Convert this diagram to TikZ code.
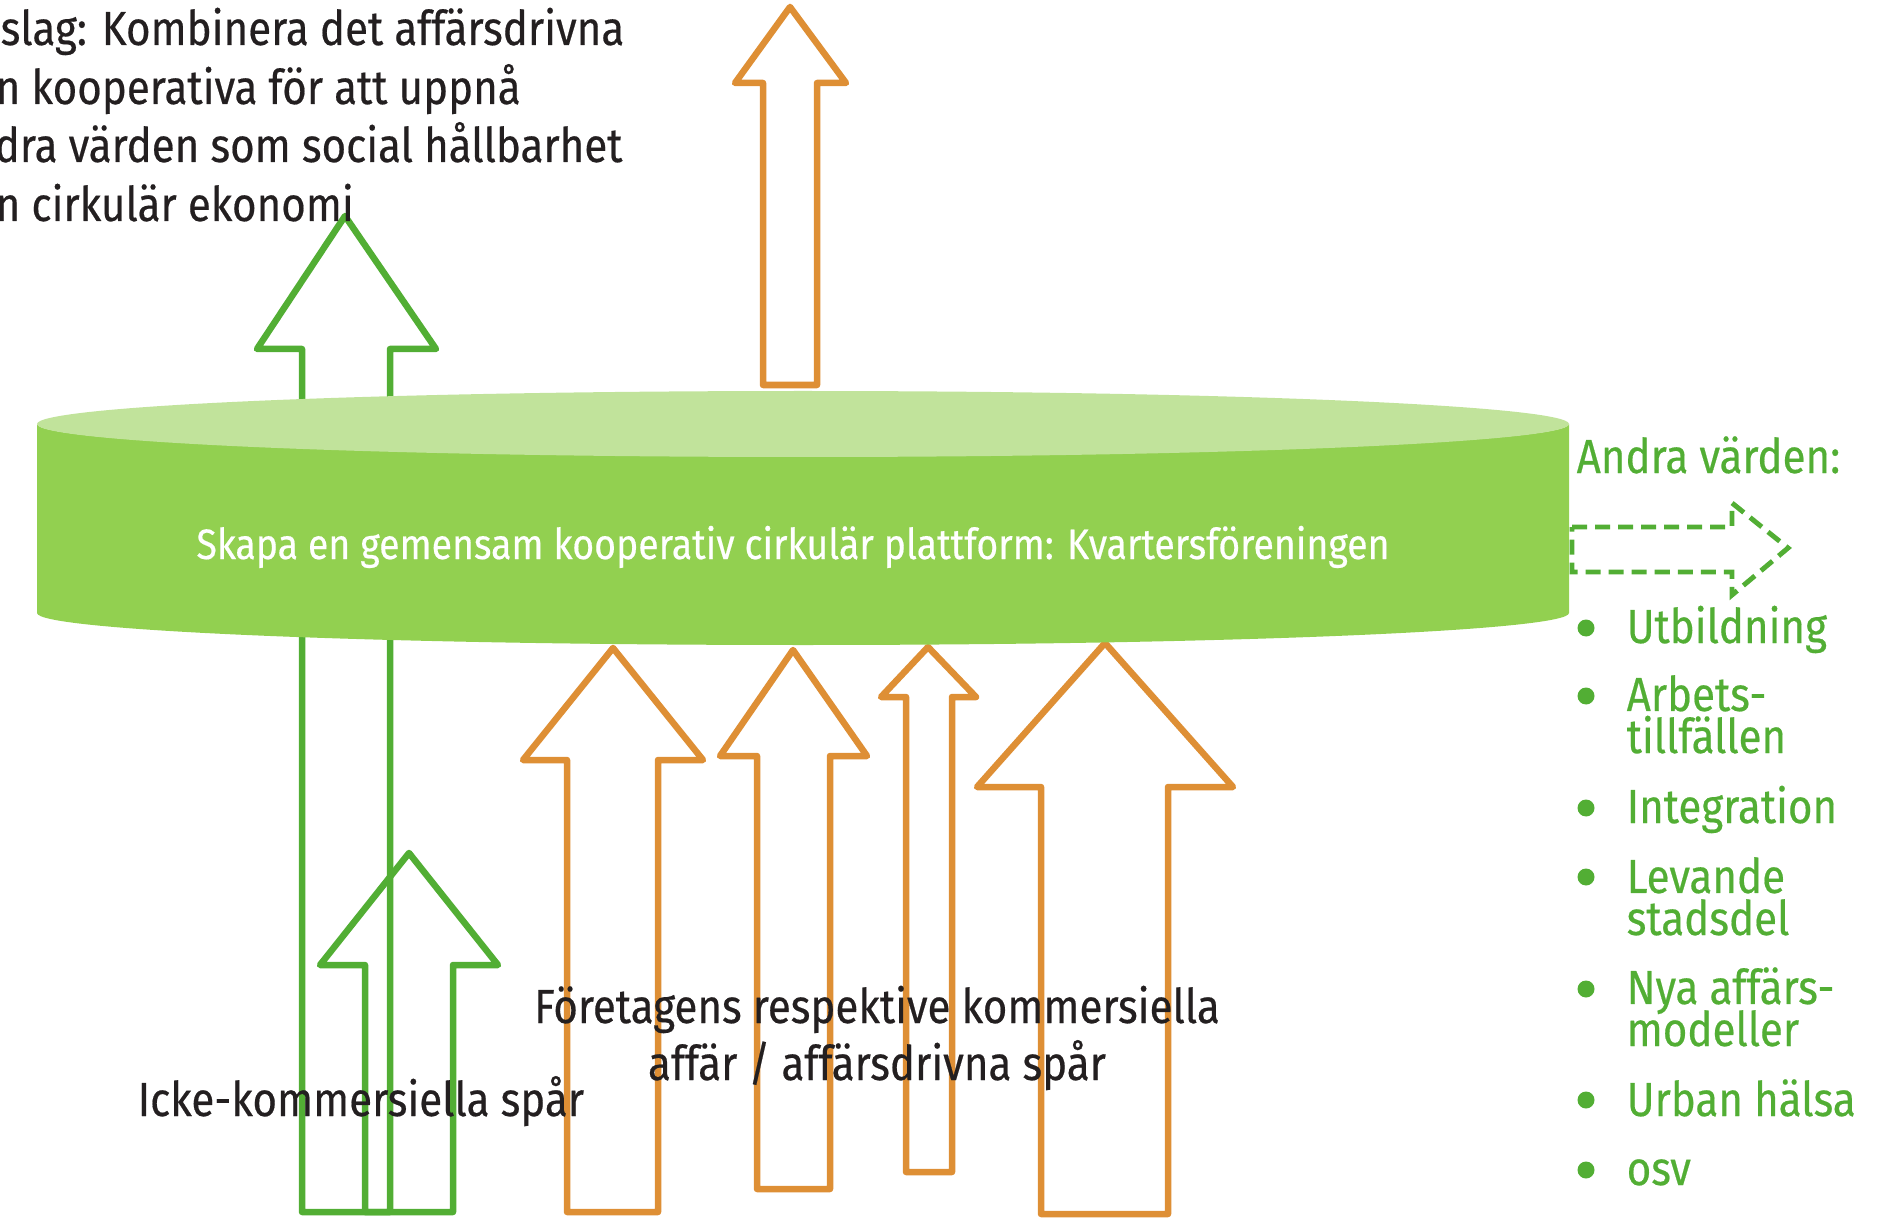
\documentclass[tikz,border=0pt]{standalone}
\usepackage{fontspec}
\setmainfont{Fira Sans}[FakeStretch=0.88, FakeBold=0.4]
\definecolor{arroworange}{HTML}{DE8F35}
\definecolor{arrowgreen}{HTML}{52AE34}
\definecolor{cylside}{HTML}{92D050}
\definecolor{cyltop}{HTML}{C1E39B}
\definecolor{textdark}{HTML}{231F20}
\newcommand{\tightlines}{\lineskiplimit -20pt\relax}

\begin{document}
\begin{tikzpicture}[x=0.01cm, y=-0.01cm,
    orangearrow/.style={draw=arroworange, line width=1.85pt, line join=round},
    greenarrow/.style={draw=arrowgreen, line width=1.85pt, line join=round},
    darktext/.style={inner sep=0pt, text=textdark, font=\fontsize{13.6}{16}\selectfont},
    greentext/.style={inner sep=0pt, anchor=base west, align=left, text=arrowgreen,
      font={\fontsize{13.6}{11.95}\selectfont\tightlines}}]
	\useasboundingbox (0,0) rectangle (1892,1219);
	\clip (0,0) rectangle (1892,1219);

	% arrows behind the platform
	\draw[greenarrow] (302,1212) -- (302,349) -- (257,349) -- (345,216) -- (436,349) -- (390,349) -- (390,1212) -- cycle;
	\draw[greenarrow] (365,1212) -- (365,965) -- (320,965) -- (409,853) -- (498,965) -- (453,965) -- (453,1212) -- cycle;
	\draw[orangearrow] (567,1212) -- (567,760) -- (523,760) -- (613,648) -- (703,760) -- (658,760) -- (658,1212) -- cycle;
	\draw[orangearrow] (757,1189) -- (757,756) -- (720,756) -- (793,650) -- (867,756) -- (830,756) -- (830,1189) -- cycle;
	\draw[orangearrow] (906,1172) -- (906,697) -- (881,697) -- (928,647) -- (976,697) -- (952,697) -- (952,1172) -- cycle;
	\draw[orangearrow] (1041,1214) -- (1041,787) -- (977,787) -- (1105,643) -- (1233,787) -- (1168,787) -- (1168,1214) -- cycle;
	\draw[orangearrow] (763,385) -- (763,83) -- (735,83) -- (790,7) -- (846,83) -- (817,83) -- (817,385) -- cycle;

	% platform
	\fill[cylside] (37,424) -- (37,613) arc[start angle=180, end angle=0, x radius=766, y radius=32]
		-- (1569,424) arc[start angle=0, end angle=180, x radius=766, y radius=32] -- cycle;
	\fill[cyltop] (803,424) ellipse[x radius=766, y radius=33];
	\node[inner sep=0pt, anchor=base, text=white, font=\fontsize{12.1}{14}\selectfont] (platform) at (793,559)
		{Skapa en gemensam kooperativ cirkulär plattform: Kvartersföreningen};

	% other values
	\draw[arrowgreen, line width=1.4pt, dash pattern=on 0.15cm off 0.08cm]
		(1572,527) -- (1732,527) -- (1732,503) -- (1788,548) -- (1732,595) -- (1732,572) -- (1572,572) -- cycle;
	\node[greentext] (andra) at (1576,473) {Andra värden:};
	\foreach \y in {628,696,808,877,989,1100,1170}
		\fill[arrowgreen] (1586,\y) circle[radius=8.5];
	% two-line items sit on the baseline of their last line
	\node[greentext] (utb) at (1626,643) {Utbildning};
	\node[greentext] (arb) at (1626,753) {Arbets-\\tillfällen};
	\node[greentext] (integ) at (1626,823) {Integration};
	\node[greentext] (lev) at (1626,935) {Levande\\stadsdel};
	\node[greentext] (nya) at (1626,1046) {Nya affärs-\\modeller};
	\node[greentext] (urban) at (1626,1116) {Urban hälsa};
	\node[greentext] (osv) at (1626,1185) {osv};

	% proposal text, cut at the left edge
	\node[darktext, anchor=base west] (prop1) at (0,45) {slag: Kombinera det affärsdrivna};
	\node[darktext, anchor=base west] (prop2) at (-5,104) {n kooperativa för att uppnå};
	\node[darktext, anchor=base west] (prop3) at (-6,162) {dra värden som social hållbarhet};
	\node[darktext, anchor=base west] (prop4) at (-5,221) {n cirkulär ekonomi};

	% track labels
	\node[darktext, anchor=base west] (icke) at (137,1116) {Icke-kommersiella spår};
	\node[darktext, anchor=base] (foretag1) at (877,1023) {Företagens respektive kommersiella};
	\node[darktext, anchor=base] (foretag2) at (877,1080) {affär / affärsdrivna spår};
\end{tikzpicture}
\end{document}
